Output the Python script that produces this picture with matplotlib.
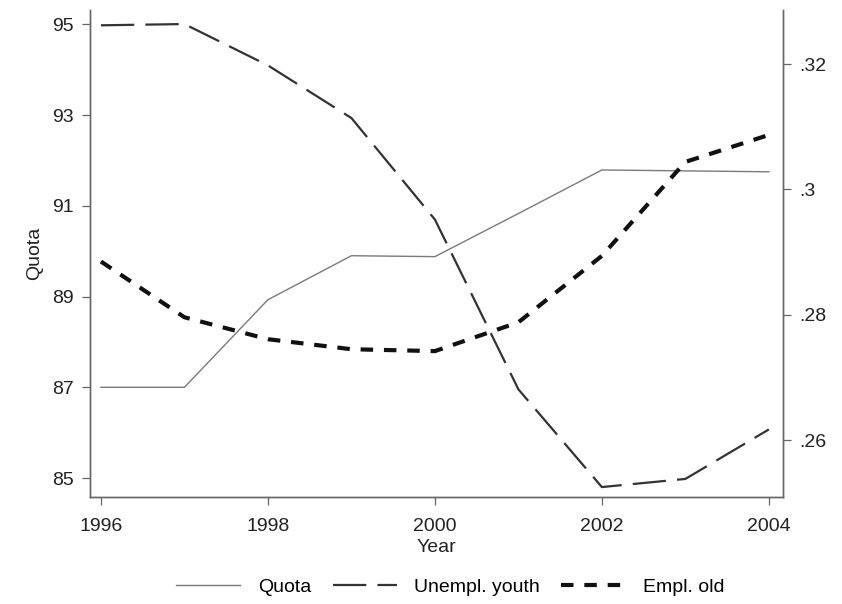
import matplotlib
matplotlib.use("Agg")
import matplotlib.pyplot as plt
from matplotlib.ticker import FuncFormatter

plt.rcParams['font.family'] = ['Liberation Sans', 'DejaVu Sans']

years = [1996, 1997, 1998, 1999, 2000, 2001, 2002, 2003, 2004]
quota = [87.0, 87.0, 88.93, 89.90, 89.88, 90.83, 91.79, 91.77, 91.75]
unempl_youth = [.3262, .3264, .3198, .3114, .2952, .2681, .2525, .2538, .2617]
empl_old = [.2885, .2796, .2761, .2745, .2742, .2788, .2894, .3044, .3087]

left_ticks = [85, 87, 89, 91, 93, 95]
right_ticks = [.26, .28, .30, .32]
x_ticks = [1996, 1998, 2000, 2002, 2004]

fig = plt.figure(figsize=(8.42, 6.04), dpi=100)
ax = fig.add_axes([0.107, 0.177, 0.823, 0.806])
ax2 = ax.twinx()

l1, = ax.plot(years, quota, color='#7a7a7a', lw=1.0, ls='-')
l2, = ax2.plot(years, unempl_youth, color='#333333', lw=1.6, ls=(0, (15, 5)))
l3, = ax2.plot(years, empl_old, color='#111111', lw=3.0, ls=(0, (3, 2.6)))

ax.set_xlim(1995.87, 2004.17)
ax.set_ylim(84.58, 95.31)
ax2.set_ylim(.2509, .3286)

ax.set_xticks(x_ticks)
ax.set_yticks(left_ticks)
ax2.set_yticks(right_ticks)
# right axis labels in the ".32" style, no leading zero
ax2.yaxis.set_major_formatter(FuncFormatter(lambda v, p: ('%g' % round(v, 2)).lstrip('0')))

for a in (ax, ax2):
    a.spines['top'].set_visible(False)
    for s in a.spines.values():
        s.set_color('#666666')
        s.set_linewidth(1.0)
    a.tick_params(direction='out', length=6, width=0.9, color='#666666',
                  labelsize=14, pad=6, labelcolor='#222222')
ax.tick_params(axis='x', pad=9)

ax.set_ylabel('Quota', fontsize=14, color='#222222', labelpad=6)
ax.set_xlabel('Year', fontsize=14, color='#222222', labelpad=3)

fig.legend([l1, l2, l3], ['Quota', 'Unempl. youth', 'Empl. old'],
           loc='lower center', bbox_to_anchor=(0.535, -0.015), ncol=3,
           frameon=False, fontsize=14, handlelength=3.3, columnspacing=1.1,
           handletextpad=0.9)

fig.savefig('out.png', dpi=100)
